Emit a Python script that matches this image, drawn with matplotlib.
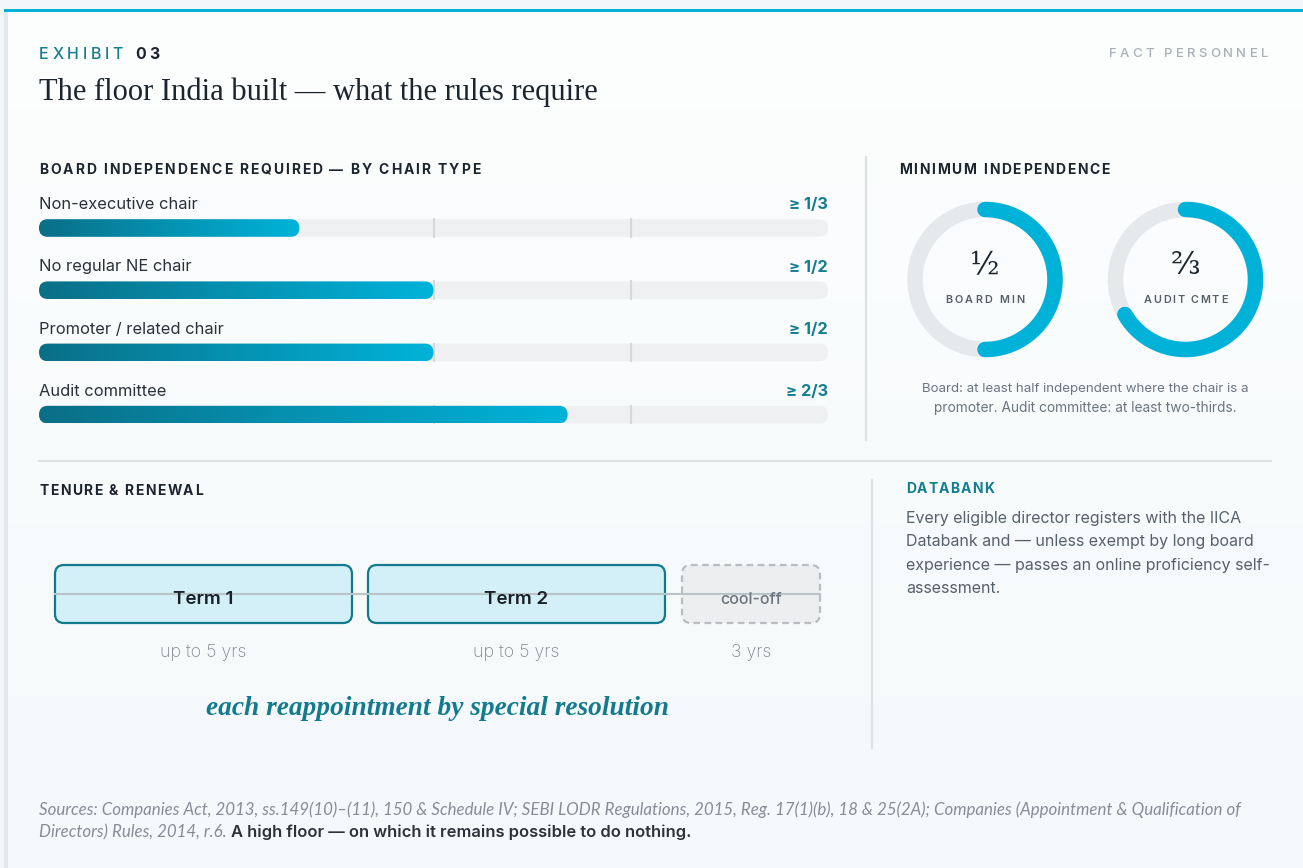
import numpy as np
import matplotlib
matplotlib.use('Agg')
import matplotlib.pyplot as plt
from matplotlib.patches import FancyBboxPatch, Rectangle
from matplotlib.colors import LinearSegmentedColormap
from matplotlib.font_manager import FontProperties

W, H, DPI = 1303, 868, 100

# ---------------- data ----------------
chair_types = ["Non-executive chair", "No regular NE chair",
               "Promoter / related chair", "Audit committee"]
required_share = [0.33, 0.50, 0.50, 0.67]
share_labels = ["\u2265 1/3", "\u2265 1/2", "\u2265 1/2", "\u2265 2/3"]
ref_ticks = [0.5, 0.75]

donut_values = [1/2, 2/3]
donut_fracs = ["\u00bd", "\u2154"]
donut_names = ["BOARD MIN", "AUDIT CMTE"]

terms = ["Term 1", "Term 2", "cool-off"]
term_lengths = ["up to 5 yrs", "up to 5 yrs", "3 yrs"]

databank_lines = ["Every eligible director registers with the IICA",
                  "Databank and \u2014 unless exempt by long board",
                  "experience \u2014 passes an online proficiency self-",
                  "assessment."]

# ---------------- style ----------------
SANS = ['Inter', 'DejaVu Sans']
SERIF = ['Liberation Serif', 'DejaVu Serif']
TEAL = '#137d91'
CYAN = '#00b2d8'
DARK = '#1c252e'
GREY = '#6b7580'
DIV = '#dde2e5'

fig = plt.figure(figsize=(W/DPI, H/DPI), dpi=DPI)
fig.patch.set_facecolor('#f3f7f9')
bg = fig.add_axes([0, 0, 1, 1])
bg.axis('off')
renderer = fig.canvas.get_renderer()

# card background
card = LinearSegmentedColormap.from_list('card', ['#fdfefe', '#f4f9fb'])
bg.imshow(np.linspace(0, 1, 200).reshape(-1, 1), extent=(8, W, H, 12),
          cmap=card, aspect='auto', zorder=0)
bg.add_patch(Rectangle((4, 9), 4, H, color='#e3e8eb', lw=0, zorder=1))
bg.add_patch(Rectangle((4, 9), W, 3, color=CYAN, lw=0, zorder=2))
bg.set_xlim(0, W)
bg.set_ylim(H, 0)


def fit(t, width):
    w = t.get_window_extent(renderer).width
    t.set_fontsize(t.get_fontsize() * width / w)
    return t


def spaced(x, y, s, size, color, width=None, tracking=2.0, weight='bold',
           family=SANS, ha='left'):
    fp = FontProperties(family=family, weight=weight, size=size)

    def adv(c):
        if c == ' ':
            a = renderer.get_text_width_height_descent('n n', fp, ismath=False)[0]
            b = renderer.get_text_width_height_descent('nn', fp, ismath=False)[0]
            return a - b
        return renderer.get_text_width_height_descent(c, fp, ismath=False)[0]
    ws = [adv(c) for c in s]
    if width is not None:
        tracking = (width - sum(ws)) / (len(s) - 1)
    total = sum(ws) + tracking * (len(s) - 1)
    x0 = x - total if ha == 'right' else (x - total / 2 if ha == 'center' else x)
    for c, w in zip(s, ws):
        if c != ' ':
            bg.text(x0, y, c, fontproperties=fp, color=color, ha='left',
                    va='baseline', zorder=5)
        x0 += w + tracking
    return x0 - tracking


# ---------------- header ----------------
spaced(39, 59, "EXHIBIT", 11.5, TEAL, width=84, weight='medium')
spaced(135, 59, "03", 11.5, DARK, width=25, weight='bold')
t = bg.text(39, 100, "The floor India built \u2014 what the rules require",
            family=SERIF, fontsize=21, color=DARK, va='baseline')
fit(t, 558)
spaced(1268, 57, "FACT PERSONNEL", 9.5, '#a9afb5', width=159, weight='medium',
       ha='right')

# ---------------- section headings ----------------
spaced(39, 174, "BOARD INDEPENDENCE REQUIRED \u2014 BY CHAIR TYPE", 10, DARK,
       width=441, weight='bold')
spaced(899, 174, "MINIMUM INDEPENDENCE", 10, DARK, width=211, weight='bold')
spaced(39, 495, "TENURE & RENEWAL", 10, DARK, width=164, weight='bold')
spaced(906, 493, "DATABANK", 10, TEAL, width=88, weight='bold')

# dividers
bg.plot([866, 866], [157, 440], color=DIV, lw=1.6, zorder=3)
bg.plot([39, 1271], [461, 461], color=DIV, lw=1.6, zorder=3)
bg.plot([872, 872], [480, 748], color=DIV, lw=1.6, zorder=3)

# ---------------- bars ----------------
row_px = 62.2
top_px = 228 - row_px
ax_b = fig.add_axes([39 / W, 1 - (top_px + 5 * row_px) / H, 789 / W, 5 * row_px / H])
ax_b.axis('off')
ax_b.patch.set_alpha(0)
bar_h = 17.6 / row_px
m_asp = 789 / row_px
rs = (bar_h * row_px / 2) / 789
grad = LinearSegmentedColormap.from_list('bar', ['#0a6f87', '#0592b2', '#00b3d9'])
for i, (lab, v, vl) in enumerate(zip(chair_types, required_share, share_labels)):
    track = FancyBboxPatch((0, i - bar_h / 2), 1, bar_h,
                           boxstyle=f"round,pad=0,rounding_size={rs}",
                           mutation_aspect=m_asp, fc='#eef0f2', ec='none', zorder=1)
    ax_b.add_patch(track)
    for tk in ref_ticks:
        ax_b.plot([tk, tk], [i - bar_h / 2, i + bar_h / 2], color='#d6d9dc',
                  lw=1.5, zorder=2)
    fillp = FancyBboxPatch((0, i - bar_h / 2), v, bar_h,
                           boxstyle=f"round,pad=0,rounding_size={rs}",
                           mutation_aspect=m_asp, fc='none', ec='none', zorder=3)
    ax_b.add_patch(fillp)
    im = ax_b.imshow(np.linspace(0, 1, 256).reshape(1, -1),
                     extent=(0, v, i + bar_h / 2, i - bar_h / 2),
                     cmap=grad, aspect='auto', zorder=3)
    im.set_clip_path(fillp)
    tl = ax_b.text(0, i - 18.7 / row_px, lab, family=SANS, fontsize=11.4,
                   color='#2a3139', va='baseline', ha='left')
    if i == 0:
        fit(tl, 158)
        lab_fs = tl.get_fontsize()
    else:
        tl.set_fontsize(lab_fs)
    ax_b.text(1, i - 18.7 / row_px, vl, family=SANS, fontsize=11.8, weight='bold',
              color=TEAL, va='baseline', ha='right')
ax_b.set_xlim(0, 1)
ax_b.set_ylim(4, -1)

# ---------------- donuts ----------------
ax_d = fig.add_axes([880 / W, 1 - 380 / H, 420 / W, 200 / H])
ax_d.axis('off')
ax_d.patch.set_alpha(0)
ax_d.set_xlim(880, 1300)
ax_d.set_ylim(380, 180)
cxs = [985, 1185.5]
cy = 279.5
r = 70
lw_ring = 15.5 * 72 / DPI
for cx, v, fr, nm in zip(cxs, donut_values, donut_fracs, donut_names):
    th = np.linspace(0, 2 * np.pi, 361)
    ax_d.plot(cx + r * np.cos(th), cy - r * np.sin(th), color='#e6e9ec',
              lw=lw_ring, solid_capstyle='butt')
    th = np.radians(np.linspace(90, 90 - 360 * v, 300))
    ax_d.plot(cx + r * np.cos(th), cy - r * np.sin(th), color=CYAN,
              lw=lw_ring, solid_capstyle='round')
    ax_d.text(cx, 266, fr, family=['DejaVu Serif'], fontsize=22, color=DARK,
              ha='center', va='center')
for cx, nm, wd in zip(cxs, donut_names, [79, 84]):
    spaced(cx, 303, nm, 7.8, '#56606a', width=wd, weight='semibold', ha='center')

t = bg.text(1085, 392, "Board: at least half independent where the chair is a",
            family=SANS, fontsize=10, color=GREY, ha='center', va='baseline')
fit(t, 328)
t = bg.text(1085, 412, "promoter. Audit committee: at least two-thirds.",
            family=SANS, fontsize=10, color=GREY, ha='center', va='baseline')
fit(t, 304)

# ---------------- tenure ----------------
box_x = [55, 368, 682]
box_w = [297, 297, 138]
by, bh = 565, 58
for k, (x0, w, nm, ln) in enumerate(zip(box_x, box_w, terms, term_lengths)):
    if k < 2:
        p = FancyBboxPatch((x0, by), w, bh, boxstyle="round,pad=0,rounding_size=9",
                           fc='#d3eff7', ec='#127a8c', lw=1.6, zorder=3)
        bg.add_patch(p)
        bg.text(x0 + w / 2, 604, nm, family=SANS, fontsize=13.5, weight='semibold',
                color='#1a2128', ha='center', va='baseline', zorder=6)
    else:
        p = FancyBboxPatch((x0, by), w, bh, boxstyle="round,pad=0,rounding_size=9",
                           fc='#eceeef', ec='#b9bdc1', lw=1.6, ls=(0, (3, 2)),
                           zorder=3)
        bg.add_patch(p)
        bg.text(x0 + w / 2, 604, nm, family=SANS, fontsize=11.5, weight='medium',
                color='#6c757d', ha='center', va='baseline', zorder=6)
    bg.text(x0 + w / 2, 657, ln, family=SANS, fontsize=12.8, weight='light',
            color='#7f878f', ha='center', va='baseline')
bg.plot([55, 820], [593.5, 593.5], color='#b8c4c8', lw=1.5, zorder=4)

t = bg.text(437, 715, "each reappointment by special resolution", family=SERIF,
            style='italic', weight='bold', fontsize=17, color='#147a8e',
            ha='center', va='baseline')
fit(t, 464)

# ---------------- databank ----------------
for j, line in enumerate(databank_lines):
    t = bg.text(906, 523 + j * 23.3, line, family=SANS, fontsize=11.2,
                color='#56616b', va='baseline')
    if j == 0:
        f0 = fit(t, 335).get_fontsize()
    else:
        t.set_fontsize(f0)

# ---------------- footer ----------------
FOOT = ['Lato', 'DejaVu Sans']
t = bg.text(39, 815, "Sources: Companies Act, 2013, ss.149(10)\u2013(11), 150 & Schedule IV; "
            "SEBI LODR Regulations, 2015, Reg. 17(1)(b), 18 & 25(2A); Companies "
            "(Appointment & Qualification of", family=FOOT, style='italic',
            fontsize=11, color='#858e97', va='baseline')
fs = fit(t, 1201).get_fontsize()
t2 = bg.text(39, 837, "Directors) Rules, 2014, r.6.", family=FOOT, style='italic',
             fontsize=fs, color='#858e97', va='baseline')
x2 = t2.get_window_extent(renderer).x1
bg.text(x2 + 4, 837, "A high floor \u2014 on which it remains possible to do nothing.",
        family=SANS, weight='semibold', fontsize=fs * 0.98, color='#2b3238',
        va='baseline')

fig.savefig('out.png', dpi=DPI, facecolor=fig.get_facecolor())
